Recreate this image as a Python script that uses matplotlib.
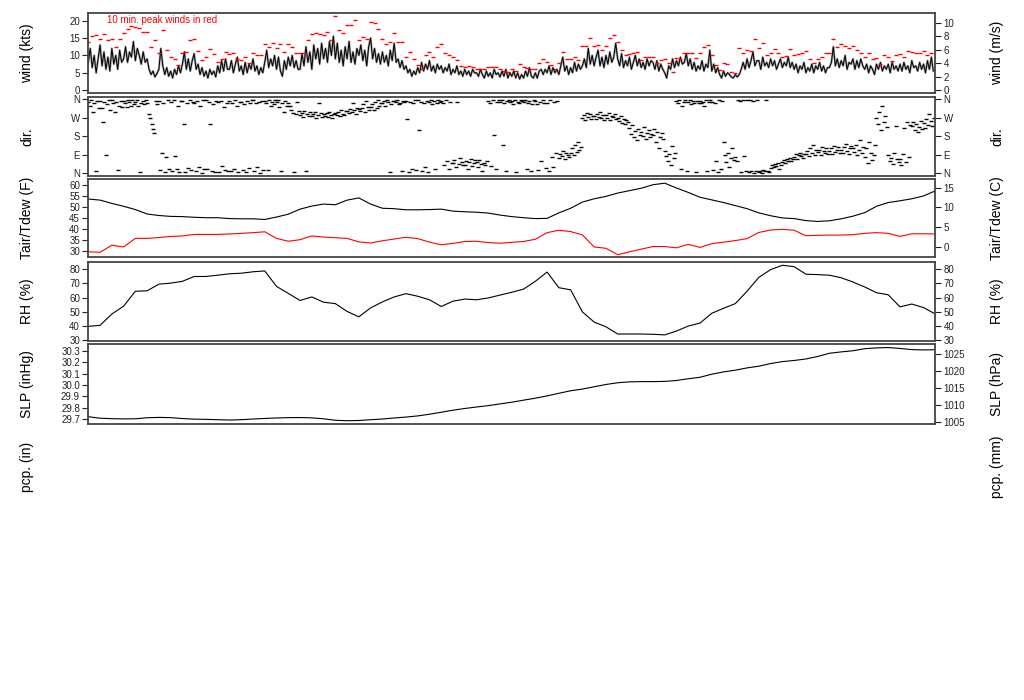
import matplotlib
matplotlib.use("Agg")
import matplotlib.pyplot as plt
import numpy as np

plt.rcParams['font.family'] = ['Liberation Sans', 'DejaVu Sans']

# wind speed (kts), every 10 min over 72 h
wind_kts = [
    8, 12, 6.5, 10, 5, 9, 13, 7, 11, 6, 9.5, 5.5, 12, 7.5, 10, 6, 11.5, 8,
    9, 12.5, 8, 11, 9.5, 14, 8.5, 12, 10, 7.5, 11, 8, 9, 6, 4.5, 5.5, 3.8, 4.8,
    6, 12, 7, 4.5, 6.5, 4, 5.5, 3.5, 6, 4.5, 7, 5, 7.5, 11, 6, 9, 5.5, 8.5,
    10.5, 6, 7.5, 4.5, 6.5, 4, 5.5, 3.5, 6, 4.5, 5.5, 3.8, 7, 5, 8.5, 5.5, 9, 6,
    6, 8.5, 5, 7.5, 9.5, 5.5, 7, 4.5, 8, 5, 7.5, 6, 9, 5.5, 7, 4.5, 6.5, 5,
    8, 11.5, 6.5, 9, 7, 10, 6, 9.5, 5.5, 4, 8.5, 6, 9.5, 7, 10, 6.5, 8.5, 6,
    6, 10.5, 7, 12.5, 8, 11, 6, 13, 9, 12, 7.5, 13.5, 9, 12, 8, 14, 10, 15.5,
    9, 13.5, 8, 11.5, 7, 12.5, 9, 14, 8, 11, 7.5, 12, 10, 13, 8.5, 11.5, 7, 12.5,
    15, 9, 12, 8, 10.5, 7.5, 11, 8, 10, 7, 11.5, 8.5, 13.5, 8, 9, 6.5, 8.5, 6,
    7, 5, 6, 4, 5.5, 4.5, 6.5, 5, 8, 5.5, 7.5, 6, 8.5, 5.5, 7, 5, 7.5, 6,
    7, 5, 6.5, 5.5, 7.5, 4.5, 6, 5, 7, 4.5, 5.5, 4, 6, 4.5, 5.5, 4, 6, 5,
    5, 4, 6, 4.5, 3.5, 5.5, 4, 5, 3.5, 6, 4.5, 5, 3.8, 5.5, 4, 6, 3.5, 5,
    4, 5.5, 3.5, 5, 3.2, 4.5, 3.5, 5.5, 4, 6.5, 4, 3.5, 5, 3.5, 5.5, 6, 4.5, 6,
    5, 7, 4.5, 6.5, 5, 6, 4.5, 7, 9.5, 5.5, 7, 4.5, 6.5, 5, 8, 5.5, 7.5, 6,
    7, 9, 6.5, 12, 7.5, 10, 7, 9.5, 11.5, 7, 9.5, 6.5, 10, 7.5, 11, 8, 9.5, 13.5,
    9, 7, 10.5, 6.5, 8.5, 7, 9.5, 6, 8, 10, 7, 9, 6.5, 8, 6, 9, 7, 8.5,
    8, 6, 8.5, 5.5, 7.5, 6, 5, 3.5, 7, 6, 9, 6.5, 8.5, 7, 9.5, 7.5, 8, 10.5,
    7, 9, 6, 8, 5.5, 7, 6, 8.5, 5.5, 7.5, 6.5, 11.5, 5.5, 7.5, 5, 6.5, 4.5, 3.5,
    5.5, 4, 5, 4.5, 3.8, 3.5, 4.5, 3.8, 4.5, 6, 8, 6, 9, 6.5, 8.5, 11, 7, 8.5,
    8.5, 6, 9.5, 7, 8, 6.5, 9, 7, 8.5, 6, 7.5, 9, 6.5, 8, 7, 9.5, 6.5, 8,
    6, 7.5, 5, 7, 6, 8, 5, 6.5, 5.5, 7.5, 5, 7, 6, 8, 5.5, 7, 5, 6.5,
    6.5, 8, 12.5, 7, 9, 6.5, 8.5, 7, 10, 6, 8, 7.5, 9, 6, 8.5, 6.5, 9, 7,
    6, 7.5, 5, 7, 6, 4.5, 7.5, 6, 8, 5.5, 7, 6, 7.5, 5, 8, 6, 7, 5.5,
    7.5, 5.5, 8, 6, 7, 5, 8.5, 6.5, 7, 5.5, 8, 6, 7.5, 5, 8.5, 6, 9.5, 5.5,
]

# 10 min peak winds (kts), every 20 min
peak_kts = [
    13.9, 15.5, 16, 14.8, 16.1, 14.4, 14.6, 12.4, 14.6,
    16.5, 17.7, 18.4, 18.2, 18, 16.8, 16.6, 12.4, 14.3,
    10.6, 17.2, 11.5, 9.6, 9.1, 7.2, 10.8, 11.1, 14.4,
    14.6, 11.3, 8.7, 9.6, 11.7, 10.5, 8.2, 8.9, 11.1,
    10.4, 10.6, 9.1, 8.7, 9.6, 7.7, 10.6, 10.2, 10.1,
    13.4, 12.4, 13.6, 12, 13.4, 11.1, 13.2, 12.4, 10.6,
    10.6, 10.6, 14.4, 16.1, 16.5, 16.1, 15.8, 16.8, 14.4,
    21.2, 17.2, 16.3, 18.7, 18.7, 20.3, 14.4, 15.3, 14.8,
    19.6, 19.3, 17.7, 14.8, 13.4, 13.9, 16.3, 13.9, 13.9,
    9.6, 11, 9.1, 7.2, 6.2, 10.1, 11, 9.6, 12.4,
    13.2, 10.6, 10.1, 9.6, 8.7, 7, 6.7, 7, 6.7,
    6.2, 6.2, 6.2, 6.7, 6.6, 6.7, 6.2, 5.6, 5.3,
    6.0, 5.5, 7.5, 6.7, 6.5, 6.2, 6.2, 7.7, 8.9,
    8.2, 7.2, 6.2, 7.7, 11, 8.9, 8.9, 9.6, 8.7,
    12.7, 12.7, 15.1, 12.7, 12.9, 11.5, 12.7, 15.1, 15.8,
    13.9, 11.5, 10.1, 10.4, 10.8, 11, 8.7, 9.6, 9.6,
    9.6, 7.7, 8.7, 8.9, 7.9, 5.3, 9.4, 8.9, 10.6,
    10.8, 10.8, 9.4, 10.8, 12.4, 12.9, 10.1, 7.2, 5.8,
    7.7, 7.5, 5.3, 5.0, 12.2, 10.6, 11.5, 11.3, 14.7,
    12.2, 13.6, 10.1, 10.6, 11.7, 10.8, 9.6, 9.8, 11.7,
    10.1, 10.4, 10.6, 11.3, 8.9, 7.9, 8.9, 9.6, 10.6,
    10.8, 14.7, 12.4, 13.4, 12.7, 12.2, 12.8, 11.5, 10.8,
    9.6, 10.6, 8.9, 9.4, 7.5, 10.1, 9.6, 8.4, 10.1,
    10.4, 9.6, 11.3, 11, 10.6, 10.8, 11.3, 10.1, 10.8,
]

# wind direction (deg), 8 readings per hour
wind_dir = [
    345, 330, 355, 300, 340, 10, 350, 320,      350, 320, 250, 345, 90, 335, 355, 310,
    355, 340, 300, 345, 15, 330, 350, 325,      350, 340, 325, 355, 345, 330, 358, 335,
    345, 355, 330, 5, 340, 350, 335, 355,       340, 290, 270, 240, 215, 195, 350, 335,
    350, 15, 100, 340, 5, 80, 355, 20,          345, 10, 355, 85, 20, 330, 5, 350,
    350, 240, 5, 340, 25, 355, 15, 345,         340, 10, 350, 30, 330, 0, 355, 20,
    355, 20, 345, 240, 10, 335, 5, 350,         345, 5, 350, 35, 325, 15, 340, 10,
    350, 10, 340, 20, 355, 330, 5, 345,         345, 15, 335, 5, 350, 25, 340, 355,
    355, 10, 340, 30, 345, 0, 350, 15,          350, 340, 15, 355, 330, 345, 335, 355,
    345, 355, 325, 10, 340, 300, 350, 330,      340, 330, 310, 295, 5, 290, 345, 305,
    285, 295, 275, 305, 10, 290, 280, 300,      280, 290, 300, 270, 285, 340, 295, 275,
    290, 280, 295, 275, 300, 285, 270, 290,     295, 285, 300, 280, 310, 290, 285, 305,
    305, 295, 315, 300, 340, 310, 290, 320,     315, 305, 320, 335, 300, 350, 325, 310,
    325, 335, 310, 345, 320, 355, 330, 340,     340, 350, 330, 355, 345, 5, 335, 350,
    350, 345, 355, 335, 340, 10, 350, 345,      350, 265, 5, 345, 20, 340, 355, 15,
    355, 210, 345, 10, 340, 30, 350, 5,         345, 355, 335, 350, 20, 340, 355, 345,
    350, 340, 40, 355, 60, 20, 345, 50,         50, 65, 30, 345, 45, 75, 55, 40,
    40, 60, 20, 55, 70, 35, 50, 65,             55, 30, 65, 45, 10, 50, 40, 60,
    350, 340, 35, 355, 185, 20, 345, 355,       345, 355, 137, 340, 10, 350, 355, 345,
    350, 335, 355, 5, 345, 340, 355, 350,       345, 355, 20, 340, 350, 10, 335, 355,
    350, 335, 15, 345, 60, 355, 340, 25,        340, 10, 355, 80, 30, 345, 100, 350,
    75, 95, 85, 110, 70, 100, 90, 80,           100, 120, 90, 135, 105, 150, 115, 125,
    270, 285, 260, 295, 275, 290, 265, 280,     280, 265, 290, 275, 300, 270, 285, 260,
    285, 270, 295, 260, 280, 275, 290, 265,     270, 255, 280, 245, 265, 240, 260, 250,
    220, 190, 235, 175, 205, 160, 215, 185,     200, 180, 225, 165, 195, 210, 175, 190,
    185, 215, 150, 200, 120, 175, 195, 165,     110, 85, 60, 95, 40, 130, 75, 100,
    350, 340, 355, 20, 330, 345, 355, 10,       345, 355, 335, 350, 340, 5, 350, 340,
    350, 340, 345, 330, 355, 10, 345, 355,      345, 15, 340, 60, 5, 355, 20, 350,
    150, 90, 55, 100, 30, 75, 120, 65,          80, 60, 355, 350, 5, 358, 85, 10,
    355, 5, 358, 10, 350, 2, 8, 356,            5, 10, 0, 15, 8, 355, 12, 3,
    25, 40, 30, 45, 35, 50, 20, 38,             55, 65, 50, 70, 60, 75, 58, 68,
    80, 95, 70, 90, 100, 85, 75, 92,            95, 110, 85, 120, 100, 135, 90, 115,
    105, 115, 90, 125, 110, 100, 120, 95,       110, 120, 95, 130, 105, 115, 125, 100,
    115, 100, 125, 140, 110, 95, 120, 130,      120, 105, 135, 90, 115, 160, 100, 125,
    80, 120, 50, 150, 100, 65, 90, 135,         270, 240, 300, 210, 330, 250, 280, 225,
    90, 60, 75, 45, 100, 230, 70, 55,           70, 40, 95, 220, 55, 250, 80, 235,
    230, 250, 210, 240, 200, 225, 255, 215,     245, 220, 265, 235, 290, 255, 230, 270,
]

# hourly air temperature, dew point (F), RH (%), SLP (inHg)
tair_f = [
    53.8, 53.3, 51.8, 50.5, 49.0, 47.0, 46.3, 45.9, 45.8, 45.5, 45.3, 45.3,
    44.9, 44.8, 44.8, 44.5, 45.6, 46.9, 49.2, 50.6, 51.5, 51.2, 53.3, 54.3,
    51.5, 49.6, 49.4, 48.9, 48.9, 49.0, 49.2, 48.3, 48.0, 47.8, 47.4, 46.5,
    45.8, 45.3, 44.9, 45.0, 47.5, 49.6, 52.4, 53.9, 55.0, 56.5, 57.6, 58.7,
    60.3, 61.0, 58.8, 56.8, 54.6, 53.4, 52.2, 50.8, 49.4, 47.5, 46.2, 45.2,
    44.9, 44.0, 43.6, 43.9, 44.8, 46.0, 47.6, 50.5, 52.2, 53.0, 53.9, 55.2,
    57.5,
]
tdew_f = [
    29.8, 29.6, 32.8, 32.0, 35.9, 35.9, 36.3, 36.8, 37.0, 37.7, 37.7, 37.7,
    37.9, 38.2, 38.5, 38.9, 35.9, 34.6, 35.3, 37.0, 36.5, 36.2, 35.9, 34.3,
    33.8, 34.8, 35.6, 36.4, 35.8, 34.2, 33.0, 33.6, 34.5, 34.6, 34.0, 33.7,
    34.1, 34.5, 35.5, 38.5, 39.6, 39.0, 37.5, 32.0, 31.4, 28.5, 29.8, 31.0,
    32.2, 32.2, 31.6, 33.2, 31.8, 33.5, 34.2, 34.9, 35.8, 38.6, 39.7, 40.0,
    39.6, 37.1, 37.3, 37.4, 37.4, 37.6, 38.2, 38.5, 38.2, 36.8, 38.0, 38.0,
    37.9,
]
rh_pct = [
    39.8, 40.5, 48.5, 54.0, 64.5, 64.8, 69.5, 70.2, 71.5, 74.9, 74.9, 75.8,
    76.8, 77.2, 78.2, 78.8, 67.9, 63.0, 58.0, 60.5, 56.8, 55.8, 50.3, 46.5,
    52.8, 57.0, 60.5, 62.8, 61.0, 58.5, 53.8, 57.5, 59.0, 58.5, 59.8, 61.8,
    63.8, 66.0, 71.5, 78.0, 67.0, 65.5, 50.0, 42.8, 39.5, 34.4, 34.4, 34.4,
    34.2, 33.8, 36.5, 40.0, 42.1, 49.0, 52.5, 55.8, 64.5, 74.3, 79.7, 82.8,
    81.8, 76.5, 76.2, 75.8, 74.0, 71.0, 67.5, 63.5, 62.0, 53.5, 55.5, 53.0,
    48.5,
]
slp_inhg = [
    29.723, 29.710, 29.706, 29.704, 29.705, 29.714, 29.717, 29.715, 29.707,
    29.702, 29.700, 29.697, 29.694, 29.697, 29.703, 29.708, 29.712, 29.715,
    29.716, 29.713, 29.705, 29.692, 29.688, 29.690, 29.697, 29.703, 29.712,
    29.720, 29.730, 29.745, 29.762, 29.780, 29.795, 29.808, 29.820, 29.835,
    29.850, 29.868, 29.885, 29.905, 29.928, 29.950, 29.965, 29.985, 30.005,
    30.020, 30.028, 30.030, 30.030, 30.032, 30.040, 30.055, 30.068, 30.095,
    30.115, 30.130, 30.150, 30.165, 30.188, 30.205, 30.215, 30.228, 30.250,
    30.278, 30.290, 30.300, 30.318, 30.325, 30.328, 30.320, 30.310, 30.307,
    30.309,
]

t_wind = np.arange(len(wind_kts)) / 6.0
t_peak = np.arange(len(peak_kts)) / 3.0
t_dir = np.arange(len(wind_dir)) / 8.0
t_hour = np.arange(len(tair_f))

fig = plt.figure(figsize=(10.24, 7.0), dpi=100)
FW, FH = 1024.0, 700.0
X0, X1 = 88.3, 935.3
frame_col = '#444444'
tick_kw = dict(labelsize=7, length=4, width=0.8, colors='#222222', pad=2)


def panel(top, bottom):
    ax = fig.add_axes([X0 / FW, 1 - bottom / FH, (X1 - X0) / FW, (bottom - top) / FH])
    ax.set_xlim(0, 72)
    ax.set_xticks([])
    for s in ax.spines.values():
        s.set_color(frame_col)
        s.set_linewidth(1.3)
    ax.tick_params(axis='y', **tick_kw)
    return ax


def right_axis(ax, ticks, labels=None, functions=None):
    sec = ax.secondary_yaxis('right', functions=functions) if functions else ax.secondary_yaxis('right')
    sec.set_yticks(ticks)
    if labels is not None:
        sec.set_yticklabels(labels)
    sec.tick_params(**tick_kw)
    sec.spines['right'].set_visible(False)
    return sec


def side_labels(top, bottom, left, right):
    yc = 1 - (top + bottom) / 2 / FH
    fig.text(27 / FW, yc, left, rotation=90, ha='center', va='center', fontsize=10)
    fig.text(997 / FW, yc, right, rotation=90, ha='center', va='center', fontsize=10)


# wind speed
ax1 = panel(13.3, 93.0)
ax1.plot(t_wind, wind_kts, color='#a0a0a0', lw=1.6)
ax1.plot(t_wind, wind_kts, color='black', lw=0.7)
ax1.plot(t_peak, peak_kts, ls='none', marker='_', ms=3.5, mew=1.0, color='red')
ax1.set_ylim(-0.8, 22.1)
ax1.set_yticks([0, 5, 10, 15, 20])
ax1.text(0.022, 0.915, '10 min. peak winds in red', transform=ax1.transAxes,
         color='red', fontsize=7, ha='left', va='center')
right_axis(ax1, [0, 2, 4, 6, 8, 10], functions=(lambda k: k * 0.514444, lambda m: m / 0.514444))
side_labels(13.3, 93.0, 'wind (kts)', 'wind (m/s)')

# wind direction
compass = ['N', 'E', 'S', 'W', 'N']
ax2 = panel(96.7, 175.7)
ax2.plot(t_dir, wind_dir, ls='none', marker='_', ms=3.5, mew=1.0, color='black')
ax2.set_ylim(-13, 373)
ax2.set_yticks([0, 90, 180, 270, 360])
ax2.set_yticklabels(compass)
right_axis(ax2, [0, 90, 180, 270, 360], compass)
side_labels(96.7, 175.7, 'dir.', 'dir.')

# temperature / dew point
ax3 = panel(179.0, 257.3)
ax3.plot(t_hour, tair_f, color='black', lw=0.8)
ax3.plot(t_hour, tdew_f, color='red', lw=0.8)
ax3.set_ylim(27.3, 62.9)
ax3.set_yticks([30, 35, 40, 45, 50, 55, 60])
right_axis(ax3, [0, 5, 10, 15], functions=(lambda f: (f - 32) / 1.8, lambda c: c * 1.8 + 32))
side_labels(179.0, 257.3, 'Tair/Tdew (F)', 'Tair/Tdew (C)')

# relative humidity
ax4 = panel(261.7, 340.7)
ax4.plot(t_hour, rh_pct, color='black', lw=0.8)
ax4.set_ylim(29.7, 85.3)
ax4.set_yticks([30, 40, 50, 60, 70, 80])
right_axis(ax4, [30, 40, 50, 60, 70, 80])
side_labels(261.7, 340.7, 'RH (%)', 'RH (%)')

# sea level pressure
ax5 = panel(344.0, 423.7)
ax5.plot(t_hour, slp_inhg, color='black', lw=0.8)
ax5.set_ylim(29.662, 30.359)
ax5.set_yticks([29.7, 29.8, 29.9, 30.0, 30.1, 30.2, 30.3])
ax5.set_yticklabels(['29.7', '29.8', '29.9', '30.0', '30.1', '30.2', '30.3'])
right_axis(ax5, [1005, 1010, 1015, 1020, 1025], functions=(lambda p: p * 33.8639, lambda h: h / 33.8639))
side_labels(344.0, 423.7, 'SLP (inHg)', 'SLP (hPa)')

# precipitation (no data drawn)
side_labels(427.0, 506.0, 'pcp. (in)', 'pcp. (mm)')

fig.savefig('out.png', dpi=100)
